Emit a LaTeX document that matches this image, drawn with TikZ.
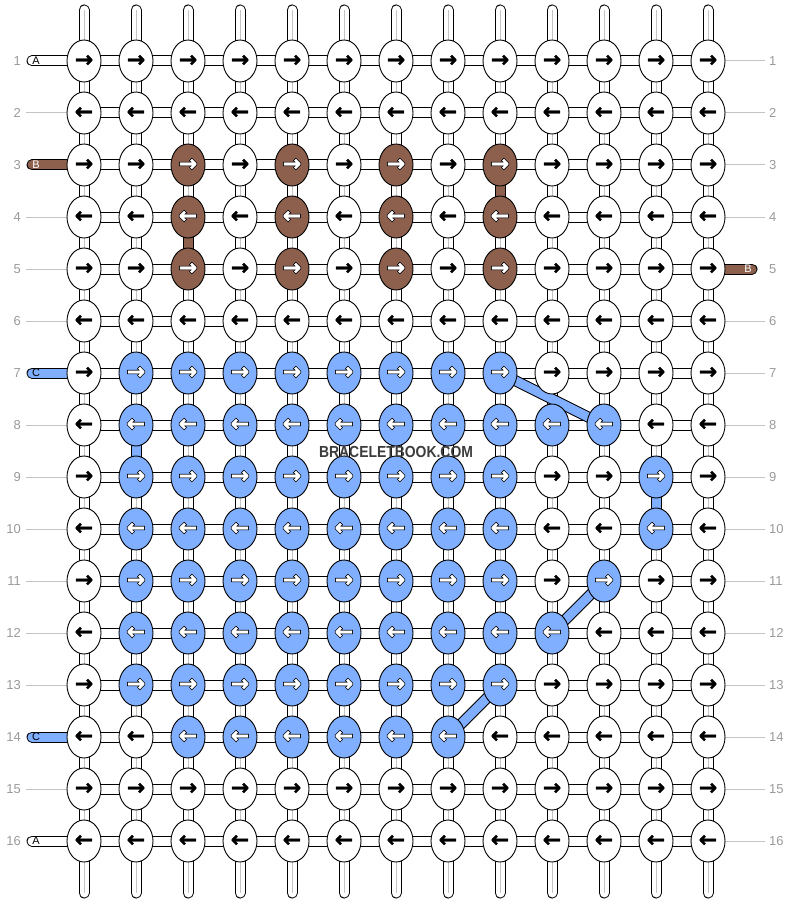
\documentclass[tikz,border=0pt]{standalone}
\usepackage{fontspec}
\setmainfont{Liberation Sans}
\newfontfamily\arrowfont{DejaVu Sans Bold}[FakeBold=1.2]
\newfontfamily\arrowedge{DejaVu Sans Bold}[FakeBold=8]
\usepackage{tikz}
\usetikzlibrary{shapes.geometric,positioning}

\definecolor{knotb}{HTML}{8C604D}
\definecolor{knotc}{HTML}{80AFFF}
\definecolor{rowgray}{HTML}{9A9A9A}
\definecolor{linegray}{HTML}{C4C4C4}
\definecolor{markgray}{HTML}{3C3C3C}

\pgfdeclarelayer{strings}
\pgfsetlayers{strings,main}

\begin{document}
\begin{tikzpicture}[x=1pt, y=-1pt,
    knot/.style={shape=ellipse, draw, fill=white, line width=0.9pt, minimum width=34pt, minimum height=42pt, inner sep=0,
                 font=\arrowfont\fontsize{22}{22}\selectfont},
    knotlabel/.style={text=white, inner sep=0, font=\arrowfont\fontsize{22}{22}\selectfont},
    bar/.style={draw=black, line width=1pt, double=white, double distance=9pt},
    strand/.style={bar, line cap=round},
    tail/.style={bar, line cap=round},
    rowline/.style={draw=linegray, line width=1pt},
    rownum/.style={text=rowgray, font=\fontsize{13}{13}\selectfont, inner sep=0},
    tailtext/.style={font=\fontsize{11}{11}\selectfont, inner sep=0}]
\useasboundingbox (0,0) rectangle (792,904);

% knots, row by row (w = white, b = brown B, c = blue C)
\foreach \r/\pat in {
    1/{w,w,w,w,w,w,w,w,w,w,w,w,w},
    2/{w,w,w,w,w,w,w,w,w,w,w,w,w},
    3/{w,w,b,w,b,w,b,w,b,w,w,w,w},
    4/{w,w,b,w,b,w,b,w,b,w,w,w,w},
    5/{w,w,b,w,b,w,b,w,b,w,w,w,w},
    6/{w,w,w,w,w,w,w,w,w,w,w,w,w},
    7/{w,c,c,c,c,c,c,c,c,w,w,w,w},
    8/{w,c,c,c,c,c,c,c,c,c,c,w,w},
    9/{w,c,c,c,c,c,c,c,c,w,w,c,w},
    10/{w,c,c,c,c,c,c,c,c,w,w,c,w},
    11/{w,c,c,c,c,c,c,c,c,w,c,w,w},
    12/{w,c,c,c,c,c,c,c,c,c,w,w,w},
    13/{w,c,c,c,c,c,c,c,c,w,w,w,w},
    14/{w,w,c,c,c,c,c,c,w,w,w,w,w},
    15/{w,w,w,w,w,w,w,w,w,w,w,w,w},
    16/{w,w,w,w,w,w,w,w,w,w,w,w,w}}{
  \ifodd\r \def\arr{→}\else \def\arr{←}\fi
  \foreach \k [count=\c] in \pat {
    \if\k w
      \node[knot] (k-\r-\c) at ({32+52*\c},{9+52*\r}) {\arr};
    \else
      \node[knot, fill=knot\k, font=\arrowedge\fontsize{22}{22}\selectfont,
            label={[knotlabel]center:\arr}] (k-\r-\c) at ({32+52*\c},{9+52*\r}) {\arr};
    \fi
  }
}

% row numbers
\foreach \r in {1,...,16}{
  \node[rownum, anchor=east] (nl-\r) at (21,{9+52*\r}) {\r};
  \node[rownum, anchor=west] (nr-\r) at (769,{9+52*\r}) {\r};
}

% thread letters
\node[tailtext] (lA1) at (36,61) {A};
\node[tailtext, text=white] (lB3) at (36,165) {B};
\node[tailtext] (lC7) at (36,373) {C};
\node[tailtext] (lC14) at (36,737) {C};
\node[tailtext] (lA16) at (36,841) {A};
\node[tailtext, text=white] (rB5) at (748,269) {B};

\node[text=markgray, font=\bfseries\fontsize{16}{16}\selectfont] (mark) at (396,452) {\scalebox{0.87}[1]{BRACELETBOOK.COM}};

\begin{pgfonlayer}{strings}
  % vertical strings
  \foreach \c in {1,...,13}{
    \coordinate (top-\c) at ({32+52*\c},10);
    \coordinate (bot-\c) at ({32+52*\c},893);
    \draw[strand] (top-\c) -- (bot-\c);
    \draw[rowline] (top-\c) -- (bot-\c);
  }
  % coloured pieces of string
  \draw[bar, double=knotb] (k-3-9.center) -- (k-4-9.center);
  \draw[bar, double=knotb] (k-4-3.center) -- (k-5-3.center);
  \draw[bar, double=knotc] (k-8-2.center) -- (k-9-2.center);
  \draw[bar, double=knotc] (k-9-12.center) -- (k-10-12.center);
  % links between knots of a row
  \foreach \r in {1,...,16}{
    \foreach \c [evaluate=\c as \d using int(\c+1)] in {1,...,12}{
      \draw[bar] (k-\r-\c.center) -- (k-\r-\d.center);
    }
  }
  % diagonal moves of C
  \draw[bar, double=knotc] (k-7-9.center) -- (k-8-11.center);
  \draw[bar, double=knotc] (k-11-11.center) -- (k-12-10.center);
  \draw[bar, double=knotc] (k-13-9.center) -- (k-14-8.center);
  % thread ends
  \coordinate (tA1) at (32,61);
  \coordinate (tB3) at (32,165);
  \coordinate (tC7) at (32,373);
  \coordinate (tC14) at (32,737);
  \coordinate (tA16) at (32,841);
  \coordinate (tB5) at (752,269);
  \draw[tail] (tA1) -- (k-1-1.center);
  \draw[tail, double=knotb] (tB3) -- (k-3-1.center);
  \draw[tail, double=knotc] (tC7) -- (k-7-1.center);
  \draw[tail, double=knotc] (tC14) -- (k-14-1.center);
  \draw[tail] (tA16) -- (k-16-1.center);
  \draw[tail, double=knotb] (k-5-13.center) -- (tB5);
  % grey guide lines
  \foreach \r in {2,4,5,6,8,9,10,11,12,13,15}{
    \coordinate (gl-\r) at (26,{9+52*\r});
    \draw[rowline] (gl-\r) -- (k-\r-1.center);
  }
  \foreach \r in {1,2,3,4,6,7,8,9,10,11,12,13,14,15,16}{
    \coordinate (gr-\r) at (765,{9+52*\r});
    \draw[rowline] (k-\r-13.center) -- (gr-\r);
  }
\end{pgfonlayer}
\end{tikzpicture}
\end{document}
